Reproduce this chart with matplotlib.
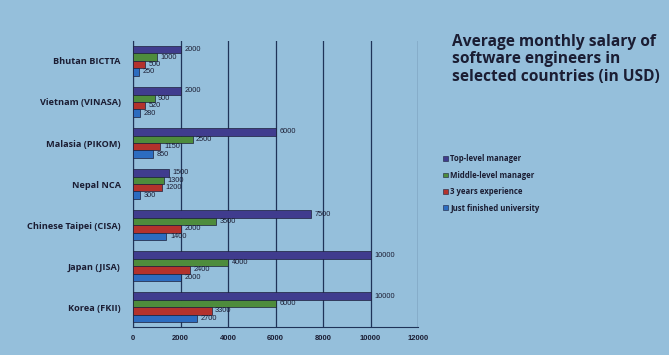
import numpy as np
import matplotlib
matplotlib.use("Agg")
import matplotlib.pyplot as plt
from matplotlib.patches import Patch

# data (top to bottom)
countries = ["Bhutan BICTTA", "Vietnam (VINASA)", "Malasia (PIKOM)", "Nepal NCA",
             "Chinese Taipei (CISA)", "Japan (JISA)", "Korea (FKII)"]
top_level = [2000, 2000, 6000, 1500, 7500, 10000, 10000]
middle_level = [1000, 900, 2500, 1300, 3500, 4000, 6000]
three_years = [500, 520, 1150, 1200, 2000, 2400, 3300]
just_finished = [250, 280, 850, 300, 1400, 2000, 2700]

series_names = ["Top-level manager", "Middle-level manager", "3 years experience",
                "Just finished university"]
series_values = [top_level, middle_level, three_years, just_finished]
colors = ["#403c8e", "#4e8c3c", "#b3322c", "#2c6cc0"]

bg = "#95bfdb"
ink = "#1b1d33"

fig = plt.figure(figsize=(6.69, 3.55), dpi=100, facecolor=bg)
ax = fig.add_axes([0.199, 0.079, 0.426, 0.805], facecolor=bg)

n = len(countries)
pos = np.arange(n)[::-1] * 1.0
bar_h = 0.18
offsets = [1.5, 0.5, -0.5, -1.5]

for vals, col, off in zip(series_values, colors, offsets):
    y = pos + off * bar_h
    ax.barh(y, vals, height=bar_h, color=col, edgecolor="#1c1f3a", linewidth=0.5, zorder=3)
    for yy, v in zip(y, vals):
        ax.text(v + 150, yy, str(v), va="center", ha="left", fontsize=5.3,
                color=ink, family="Liberation Sans", zorder=4)

ax.set_xlim(0, 12000)
ax.set_ylim(pos.min() - 0.48, pos.max() + 0.48)
ax.set_xticks(np.arange(0, 12001, 2000))
ax.set_xticklabels([str(t) for t in range(0, 12001, 2000)], fontsize=5.5,
                   color=ink, fontweight="bold", family="Liberation Sans")
ax.set_yticks(pos)
ax.set_yticklabels(countries, fontsize=6.6, fontweight="bold", color=ink,
                   family="Open Sans")
ax.tick_params(axis="both", length=0, pad=6)
ax.tick_params(axis="y", pad=9)
ax.grid(axis="x", color="#1f3358", linewidth=0.9, zorder=1)
for s in ["top", "right"]:
    ax.spines[s].set_visible(False)
ax.spines["left"].set_color("#1f3358")
ax.spines["bottom"].set_color("#1f3358")

fig.text(0.675, 0.905, "Average monthly salary of\nsoftware engineers in\nselected countries (in USD)",
         fontsize=11.2, fontweight="bold", color=ink, va="top", ha="left",
         family="Open Sans", linespacing=1.12)

handles = [Patch(facecolor=c, edgecolor="#1c1f3a", linewidth=0.4) for c in colors]
leg = fig.legend(handles, series_names, loc="upper left", bbox_to_anchor=(0.652, 0.585),
                 frameon=False, handlelength=0.6, handleheight=0.6,
                 handletextpad=0.3, labelspacing=0.95,
                 prop={"family": "Open Sans", "weight": "bold", "size": 5.6})
for t in leg.get_texts():
    t.set_color(ink)

fig.savefig("out.png", dpi=100, facecolor=bg)
